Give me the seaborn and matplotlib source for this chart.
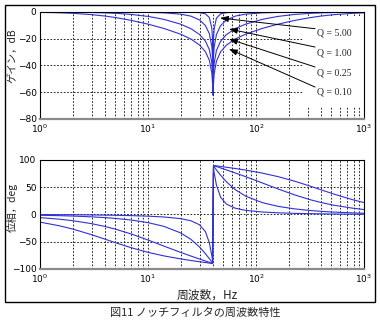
import matplotlib
matplotlib.use("Agg")
import matplotlib.pyplot as plt
import seaborn as sns
import pandas as pd
from matplotlib.patches import Rectangle
from matplotlib.ticker import LogLocator, FixedLocator, NullFormatter

# Frequency points (Hz)
freq = [1, 1.5, 2, 3, 4, 5, 7, 10, 14, 20, 25, 30, 34, 37, 39, 39.6, 40,
        40.4, 41, 43, 47, 53, 64, 80, 114, 160, 228, 320, 400, 530, 800, 1000]

q_labels = ["Q = 5.00", "Q = 1.00", "Q = 0.25", "Q = 0.10"]

# Gain (dB)
gain_q500 = [0.0, 0.0, 0.0, -0.001, -0.002, -0.003, -0.006, -0.012, -0.028, -0.077,
             -0.18, -0.48, -1.38, -4.22, -12.21, -20.00, -62.0,
             -20.09, -12.40, -4.64, -1.40, -0.50, -0.18, -0.077, -0.028, -0.012,
             -0.006, -0.003, -0.002, -0.001, 0.0, 0.0]
gain_q100 = [-0.003, -0.006, -0.011, -0.025, -0.044, -0.069, -0.14, -0.30, -0.64, -1.60,
             -3.12, -5.95, -10.16, -16.24, -25.93, -33.94, -62.0,
             -34.02, -26.14, -16.87, -10.22, -6.10, -3.12, -1.60, -0.65, -0.30,
             -0.14, -0.069, -0.044, -0.025, -0.011, -0.007]
gain_q025 = [-0.04, -0.10, -0.17, -0.38, -0.66, -1.00, -1.82, -3.30, -5.50, -9.09,
             -12.51, -16.82, -21.79, -28.18, -37.96, -45.98, -62.0,
             -46.06, -38.17, -28.83, -21.86, -17.01, -12.51, -9.09, -5.52, -3.30,
             -1.83, -1.00, -0.66, -0.38, -0.17, -0.11]
gain_q010 = [-0.26, -0.57, -0.97, -1.96, -3.05, -4.17, -6.29, -9.09, -12.28, -16.58,
             -20.26, -24.70, -29.73, -36.13, -45.92, -53.94, -62.0,
             -54.02, -46.13, -36.79, -29.80, -24.89, -20.26, -16.58, -12.31, -9.09,
             -6.31, -4.17, -3.05, -1.98, -0.97, -0.65]

# Phase (deg)
phase_q500 = [-0.29, -0.43, -0.57, -0.86, -1.16, -1.45, -2.07, -3.05, -4.56, -7.59,
              -11.59, -18.92, -31.49, -52.03, -75.80, -84.26, 0.0,
              84.32, 76.13, 54.09, 31.69, 19.32, 11.59, 7.59, 4.58, 3.05,
              2.07, 1.45, 1.16, 0.87, 0.57, 0.46]
phase_q100 = [-1.43, -2.15, -2.87, -4.31, -5.77, -7.24, -10.23, -14.93, -21.75, -33.69,
              -45.72, -59.74, -71.92, -81.13, -87.10, -88.85, 0.0,
              88.86, 87.17, 81.76, 72.05, 60.31, 45.72, 33.69, 21.81, 14.93,
              10.26, 7.24, 5.77, 4.34, 2.87, 2.29]
phase_q025 = [-5.71, -8.54, -11.34, -16.79, -22.00, -26.93, -35.83, -46.85, -57.92, -69.44,
              -76.30, -81.70, -85.33, -87.77, -89.28, -89.71, 0.0,
              89.71, 89.29, 87.93, 85.37, 81.89, 76.30, 69.44, 57.99, 46.85,
              35.91, 26.93, 22.00, 16.89, 11.34, 9.10]
phase_q010 = [-14.05, -20.58, -26.63, -37.03, -45.29, -51.78, -61.02, -69.44, -75.93, -81.47,
              -84.43, -86.66, -88.13, -89.11, -89.71, -89.88, 0.0,
              89.89, 89.72, 89.17, 88.14, 86.74, 84.43, 81.47, 75.97, 69.44,
              61.08, 51.78, 45.29, 37.21, 26.63, 21.83]

gains = [gain_q500, gain_q100, gain_q025, gain_q010]
phases = [phase_q500, phase_q100, phase_q025, phase_q010]

df = pd.DataFrame({
    "f": freq * 4,
    "gain": sum(gains, []),
    "phase": sum(phases, []),
    "Q": sum([[q] * len(freq) for q in q_labels], []),
})

# Annotation arrows: head (f, dB), tail (f, dB), label y (dB)
arrow_heads = [(46.4, -4.5), (56.2, -12.7), (56.2, -20.2), (56.2, -27.7)]
arrow_tails = [(352, -12.5), (352, -26.2), (352, -41.1), (352, -56.1)]
label_y = [-15.7, -30.7, -45.6, -59.8]
label_x = 367

sns.set_theme(style="white")
plt.rcParams["font.family"] = ["DejaVu Sans"]
plt.rcParams["mathtext.fontset"] = "dejavusans"

line_color = "#3030d8"
cjk = ["Noto Sans CJK JP", "DejaVu Sans"]

fig = plt.figure(figsize=(3.8, 3.23), dpi=100)
ax1 = fig.add_axes([0.1053, 0.6316, 0.8526, 0.3313])
ax2 = fig.add_axes([0.1053, 0.1672, 0.8526, 0.3375])

for ax in (ax1, ax2):
    ax.set_xscale("log")

sns.lineplot(data=df, x="f", y="gain", hue="Q", palette=[line_color] * 4,
             legend=False, ax=ax1, lw=0.8, sort=False, estimator=None)
sns.lineplot(data=df, x="f", y="phase", hue="Q", palette=[line_color] * 4,
             legend=False, ax=ax2, lw=0.8, sort=False, estimator=None)

ax1.set_ylim(-80, 0)
ax1.yaxis.set_major_locator(FixedLocator([-80, -60, -40, -20, 0]))
ax2.set_ylim(-100, 100)
ax2.yaxis.set_major_locator(FixedLocator([-100, -50, 0, 50, 100]))

grid_style = dict(color="black", lw=0.6, ls=(0, (2, 2)))
for ax in (ax1, ax2):
    ax.set_xlim(1, 1000)
    ax.xaxis.set_major_locator(LogLocator(base=10, numticks=10))
    ax.xaxis.set_minor_locator(LogLocator(base=10, subs=range(2, 10), numticks=20))
    ax.xaxis.set_minor_formatter(NullFormatter())
    ax.set_axisbelow(True)
    ax.grid(True, which="both", axis="x", **grid_style)
    ax.grid(True, which="major", axis="y", **grid_style)
    ax.tick_params(axis="both", which="major", direction="in", length=2,
                   labelsize=6.5, pad=2.5, colors="black")
    ax.tick_params(axis="x", which="minor", direction="in", length=1)
    ax.set_xlabel("")
    ax.set_ylabel("")
    for side in ("top", "right", "left"):
        ax.spines[side].set_color("black")
        ax.spines[side].set_linewidth(0.8)
    ax.spines["bottom"].set_color("#8a8a8a")
    ax.spines["bottom"].set_linewidth(1.6)

# White background behind the Q labels
ax1.add_patch(Rectangle((272, -71), 1000 - 272, 68, facecolor="white",
                        edgecolor="none", zorder=1))

for head, tail, y, txt in zip(arrow_heads, arrow_tails, label_y, q_labels):
    ax1.annotate("", xy=head, xytext=tail, zorder=4,
                 arrowprops=dict(arrowstyle="-|>,head_length=0.42,head_width=0.15",
                                 color="black", lw=0.7, shrinkA=0, shrinkB=0))
    ax1.text(label_x, y, txt, fontsize=7, family=["Liberation Serif"],
             ha="left", va="center", zorder=4)

fig.text(12.5 / 380, 1 - 56 / 323, "ゲイン，dB", rotation=90, ha="center",
         va="center", fontsize=7.5, family=cjk)
fig.text(12.5 / 380, 1 - 207.5 / 323, "位相，deg", rotation=90, ha="center",
         va="center", fontsize=7.5, family=cjk)
fig.text(207 / 380, 1 - 295 / 323, "周波数，Hz", ha="center", va="center",
         fontsize=8.5, family=cjk)
fig.text(195 / 380, 1 - 313 / 323, "図11 ノッチフィルタの周波数特性", ha="center",
         va="center", fontsize=8, family=cjk)

fig.patches.append(Rectangle((5 / 380, 1 - 302 / 323), 370 / 380, 297 / 323,
                             transform=fig.transFigure, fill=False,
                             edgecolor="black", lw=1.0))

fig.savefig("out.png", dpi=100)
